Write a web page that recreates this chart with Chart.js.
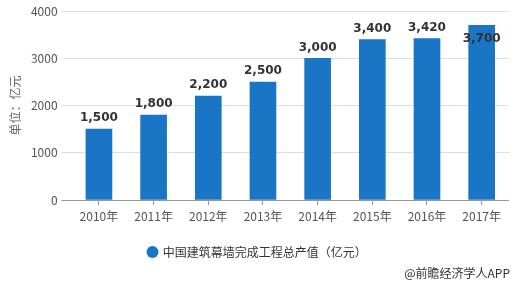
<!DOCTYPE html>
<html lang="zh">
<head>
    <meta charset="UTF-8">
    <title>中国建筑幕墙完成工程总产值</title>
    <script src="https://cdn.jsdelivr.net/npm/chart.js@4.4.0/dist/chart.umd.min.js"></script>
    <style>
        body { margin: 0; background: #fff; }
        .wrap { position: relative; width: 517px; height: 284px; }
    </style>
</head>
<body>
    <div class="wrap">
        <canvas id="chart" width="517" height="284"></canvas>
    </div>

    <script>
        const years = ['2010年', '2011年', '2012年', '2013年', '2014年', '2015年', '2016年', '2017年'];
        const output = [1500, 1800, 2200, 2500, 3000, 3400, 3420, 3700];
        const seriesName = '中国建筑幕墙完成工程总产值（亿元）';
        const barColor = '#1a75c4';
        const cjk = '"Noto Sans CJK SC", "Noto Sans", sans-serif';

        // value labels above bars (pushed inside when they would hit the top)
        const valueLabels = {
            id: 'valueLabels',
            afterDatasetsDraw(chart) {
                const ctx = chart.ctx;
                const meta = chart.getDatasetMeta(0);
                ctx.save();
                ctx.font = 'bold 12px "DejaVu Sans", sans-serif';
                ctx.fillStyle = '#333';
                ctx.textAlign = 'center';
                ctx.textBaseline = 'bottom';
                meta.data.forEach((bar, i) => {
                    let y = bar.y - 5;
                    if (y - 14 < chart.chartArea.top) y = bar.y + 20;
                    ctx.fillText(output[i].toLocaleString('en-US'), bar.x, y);
                });
                ctx.restore();
            }
        };

        const credit = {
            id: 'credit',
            afterDraw(chart) {
                const ctx = chart.ctx;
                ctx.save();
                ctx.font = '12px ' + cjk;
                ctx.fillStyle = '#333';
                ctx.textAlign = 'right';
                ctx.textBaseline = 'middle';
                ctx.fillText('@前瞻经济学人APP', 510, 273);
                ctx.restore();
            }
        };

        new Chart(document.getElementById('chart'), {
            type: 'bar',
            data: {
                labels: years,
                datasets: [{
                    label: seriesName,
                    data: output,
                    backgroundColor: barColor,
                    barThickness: 26
                }]
            },
            options: {
                responsive: false,
                animation: false,
                layout: { padding: { left: 6, right: 8, top: 4, bottom: 16 } },
                plugins: {
                    tooltip: { enabled: false },
                    legend: {
                        position: 'bottom',
                        labels: {
                            usePointStyle: true,
                            pointStyle: 'circle',
                            boxWidth: 8.5,
                            boxHeight: 8.5,
                            padding: 8,
                            color: '#333',
                            font: { family: cjk, size: 12 }
                        }
                    }
                },
                scales: {
                    x: {
                        border: { display: false },
                        grid: {
                            offset: false,
                            drawOnChartArea: false,
                            drawTicks: true,
                            tickLength: 5,
                            color: '#999'
                        },
                        ticks: {
                            color: '#555',
                            padding: 4,
                            font: { family: cjk, size: 12 }
                        },
                        afterFit(scale) { scale.height = 38; }
                    },
                    y: {
                        min: 0,
                        max: 4000,
                        border: { display: false },
                        grid: {
                            color: ctx => ctx.tick && ctx.tick.value === 0 ? '#999' : '#ddd',
                            drawTicks: true,
                            tickLength: 10
                        },
                        ticks: {
                            stepSize: 1000,
                            color: '#555',
                            padding: 4,
                            font: { family: cjk, size: 12 },
                            callback: v => String(v)
                        },
                        title: {
                            display: true,
                            text: '单位：亿元',
                            color: '#666',
                            padding: { top: 2, bottom: 0 },
                            font: { family: cjk, size: 12 }
                        },
                        afterFit(scale) { scale.width = 65.6; }
                    }
                }
            },
            plugins: [valueLabels, credit]
        });
    </script>
</body>
</html>
